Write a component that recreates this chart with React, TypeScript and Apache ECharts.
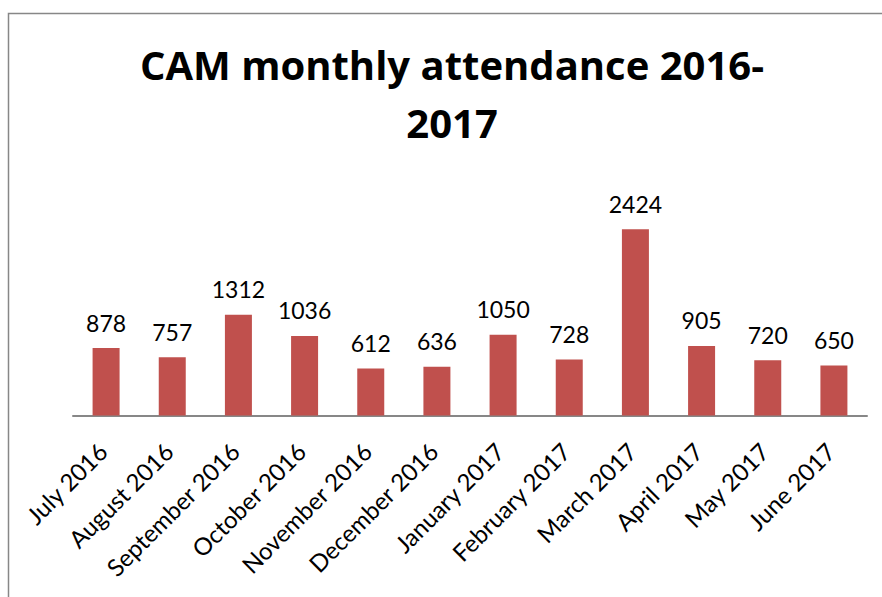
import React, { useEffect, useRef } from "react";
import * as echarts from "echarts";

const titleText = "CAM monthly attendance 2016-\n2017";
const categories = [
  "July 2016",
  "August 2016",
  "September 2016",
  "October 2016",
  "November 2016",
  "December 2016",
  "January 2017",
  "February 2017",
  "March 2017",
  "April 2017",
  "May 2017",
  "June 2017",
];
const attendance = [878, 757, 1312, 1036, 612, 636, 1050, 728, 2424, 905, 720, 650];

const FONT = "Lato, 'Open Sans', sans-serif";
const TITLE_FONT = "'Open Sans', Lato, sans-serif";

export default function App() {
  const ref = useRef<HTMLDivElement>(null);
  useEffect(() => {
    if (!ref.current) return;
    const chart = echarts.init(ref.current, null, { renderer: "svg" });
    chart.setOption({
      animation: false,
      backgroundColor: "#ffffff",
      title: {
        text: titleText,
        left: "center",
        top: 30,
        textStyle: {
          fontFamily: TITLE_FONT,
          fontWeight: "bold",
          fontSize: 40,
          lineHeight: 58,
          color: "#000000",
        },
      },
      graphic: [
        {
          type: "rect",
          shape: { x: 8.5, y: 13.5, width: 900, height: 700 },
          style: { fill: "none", stroke: "#878787", lineWidth: 1.5 },
          silent: true,
        },
      ],
      grid: { left: 73, right: 37, top: 185, bottom: 181.5 },
      xAxis: {
        type: "category",
        data: categories,
        axisLine: { show: true, lineStyle: { color: "#878787", width: 2 } },
        axisTick: { show: false },
        axisLabel: {
          rotate: 45,
          interval: 0,
          margin: 28,
          padding: [0, 5, 0, 0],
          fontFamily: FONT,
          fontSize: 24,
          color: "#000000",
        },
      },
      yAxis: {
        type: "value",
        min: 0,
        max: 3000,
        show: false,
        splitLine: { show: false },
      },
      series: [
        {
          type: "bar",
          data: attendance,
          barWidth: 27,
          itemStyle: { color: "#C0504D" },
          label: {
            show: true,
            position: "top",
            distance: 14,
            fontFamily: FONT,
            fontSize: 23,
            color: "#000000",
          },
        },
      ],
    });
    return () => chart.dispose();
  }, []);
  return (
    <div
      style={{
        position: "fixed",
        left: 0,
        top: 0,
        width: 882,
        height: 597,
        overflow: "hidden",
        background: "#fff",
      }}
    >
      <div ref={ref} style={{ position: "absolute", left: 0, top: 0, width: 904, height: 597 }} />
    </div>
  );
}
